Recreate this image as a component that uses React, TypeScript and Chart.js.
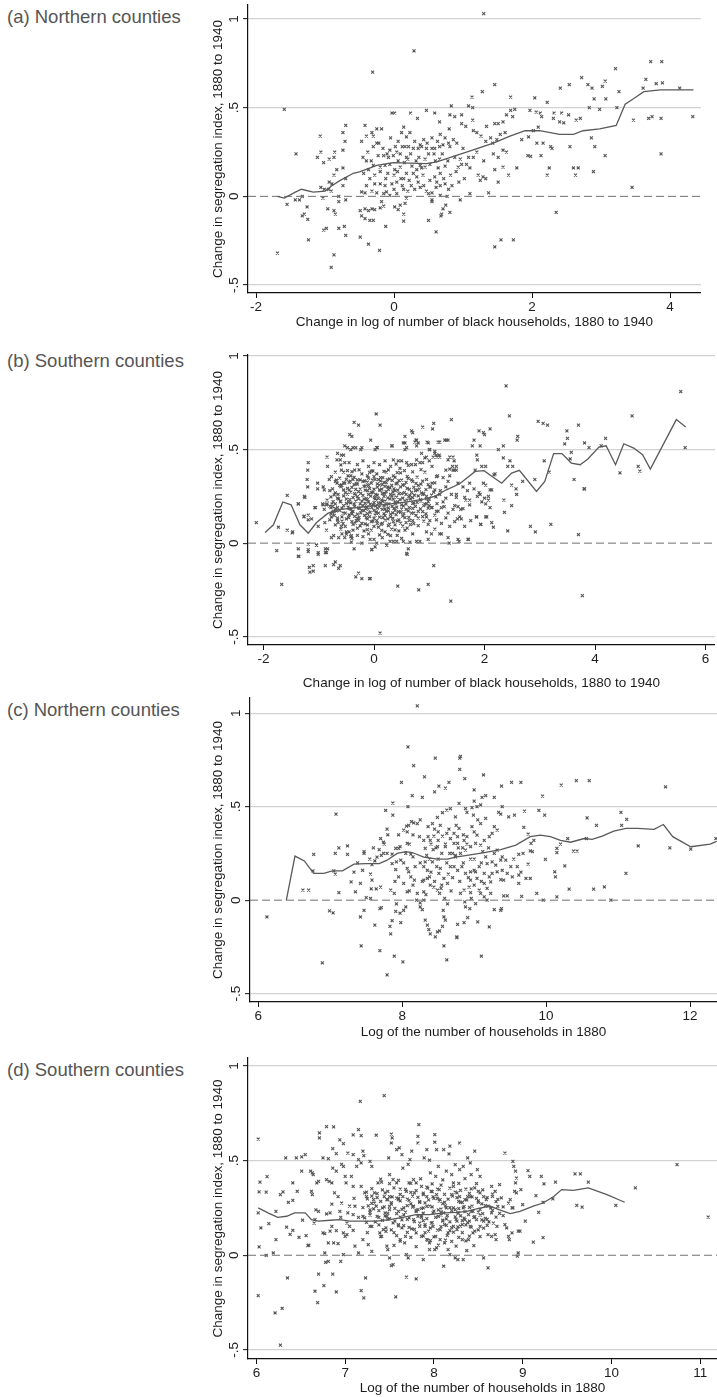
import React, { useEffect, useRef } from 'react';
import { Chart, registerables } from 'chart.js';

Chart.register(...registerables);

const FONT = '"Liberation Sans", Arial, Helvetica, sans-serif';
const CANVAS_LEFT = 190;

const Y_TITLE = 'Change in segregation index, 1880 to 1940';
const X_TITLE_CHANGE = 'Change in log of number of black households, 1880 to 1940';
const X_TITLE_LEVEL = 'Log of the number of households in 1880';

const yTickValues = [-0.5, 0, 0.5, 1];
const yTickLabels = ['-.5', '0', '.5', '1'];
const xTicksA = [-2, 0, 2, 4];
const xTicksB = [-2, 0, 2, 4, 6];
const xTicksC = [6, 8, 10, 12];
const xTicksD = [6, 7, 8, 9, 10, 11];

// (a) Northern counties: change in log black households vs change in segregation
const pointsA: [number, number][] = [
  [-1.59,0.49],[-1.69,-0.32],[-1.55,-0.045],[-1.42,0.24],[-1.07,0.34],[-1.11,0.22],[-1.06,0.25],[-1.02,0.19],[-0.94,0.21],[-0.87,0.22],[-0.86,0.25],[-0.83,0.15],[-0.74,0.26],[-0.87,0.12],[-0.94,0.08],[-0.71,0.31],[-0.74,0.36],[-0.70,0.40],[-1.43,-0.02],[-1.37,-0.02],[-1.33,0.0],[-1.26,-0.06],[-1.33,-0.11],[-1.30,-0.10],[-1.25,-0.13],[-1.24,-0.245],[-1.02,-0.19],[-0.98,-0.18],[-0.91,-0.40],[-0.87,-0.33],[-0.80,-0.18],[-0.72,-0.17],[-0.96,-0.07],[-0.87,-0.08],[-0.85,-0.10],[-0.80,-0.03],[-0.70,-0.02],[-0.70,-0.22],[-1.03,-0.01],[-0.95,0.04],[-0.91,0.03],[-0.90,0.07],[-1.06,0.05],[-1.01,0.04],[-0.74,0.16],[-0.70,0.10],[-0.74,0.06],[-0.80,0.0],
  [1.30,1.03],[0.29,0.82],[-0.31,0.70],[3.72,0.76],[3.88,0.76],[3.21,0.72],[2.72,0.67],[3.65,0.66],[3.80,0.635],[3.89,0.64],[3.06,0.65],[3.02,0.62],[2.41,0.61],[2.54,0.63],[2.81,0.63],[2.87,0.61],[3.26,0.59],[1.46,0.63],[1.28,0.59],[1.13,0.56],[1.69,0.56],[2.04,0.555],[2.22,0.53],[2.90,0.55],[3.07,0.55],[2.98,0.49],[2.83,0.50],[3.23,0.50],[3.61,0.61],[4.14,0.61],[4.33,0.45],[3.69,0.44],[3.74,0.45],[3.87,0.44],[3.47,0.43],[3.87,0.24],[3.45,0.05],[3.06,0.23],[2.91,0.28],[2.86,0.33],[2.60,0.16],[2.67,0.16],[2.63,0.12],[2.89,0.14],[2.55,0.28],[2.35,-0.09],[2.32,0.47],[2.43,0.47],[2.53,0.46],[2.64,0.43],[2.70,0.44],[2.31,0.44],[2.40,0.42],[2.46,0.415],[2.27,0.28],[2.29,0.27],[2.25,0.16],[2.22,0.12],[2.13,0.23],[2.12,0.47],[2.14,0.45],[2.06,0.475],[1.97,0.485],[2.09,0.39],[2.02,0.37],[1.95,0.335],[1.85,0.32],[1.94,0.23],[1.98,0.225],[2.07,0.30],[2.16,0.30],[1.75,0.49],[1.69,0.485],[1.63,0.46],[1.72,0.45],[1.58,0.42],[1.51,0.41],[1.46,0.41],[1.34,0.395],[1.61,0.36],[1.54,0.35],[1.49,0.32],[1.43,0.30],[1.33,0.31],[1.26,0.34],[1.20,0.36],[1.15,0.37],[1.63,0.25],[1.58,0.26],[1.51,0.22],[1.44,0.24],[1.78,0.16],[1.66,0.12],[1.58,0.165],[1.46,0.15],[1.51,0.08],[1.37,0.02],[1.33,0.10],[1.25,0.09],[1.22,0.12],[1.29,0.11],[1.10,0.16],[1.05,0.18],[1.08,0.22],[1.15,0.22],[0.93,0.165],[0.98,0.18],[0.96,0.21],[1.10,0.015],[0.96,-0.02],[1.46,-0.285],[1.55,-0.245],[1.73,-0.245],[0.98,0.46],[0.81,0.46],[0.88,0.45],[0.83,0.51],[1.08,0.51],[1.14,0.50],[1.14,0.43],[0.98,0.41],[1.04,0.395],[0.79,0.30],[0.81,0.28],[0.91,0.30],[0.86,0.32],[0.67,0.35],[0.74,0.33],[0.71,0.29],[0.66,0.42],[0.59,0.47],[0.47,0.485],[0.34,0.44],[0.24,0.47],[0.01,0.47],[-0.03,0.47],[0.66,0.21],[0.64,0.16],[0.67,0.13],[0.59,0.11],[0.52,0.18],[0.45,0.165],[0.38,0.175],[0.33,0.15],[0.74,0.07],[0.84,0.06],[0.79,0.04],[0.67,0.06],[0.77,0.0],[0.67,0.005],[0.55,-0.02],[0.75,-0.05],[0.71,-0.07],[0.69,-0.10],[0.81,-0.09],[0.68,-0.11],[0.50,-0.135],[0.61,-0.20],[0.61,0.05],[0.55,0.02],[0.47,0.03],[0.43,0.06],[0.40,0.28],[0.47,0.27],[0.55,0.27],[0.59,0.27],[0.43,0.32],[0.38,0.29],[0.28,0.27],[0.21,0.28],[0.23,0.36],[0.18,0.335],[0.11,0.36],[0.14,0.39],[0.16,0.28],[0.06,0.31],[0.04,0.25],[-0.06,0.26],[-0.01,0.23],[0.09,0.24],[-0.08,0.22],[-0.15,0.23],[-0.23,0.23],[-0.30,0.28],[-0.18,0.38],[-0.25,0.38],[-0.32,0.36],[-0.40,0.34],[-0.30,0.34],[-0.42,0.40],[-0.47,0.31],[0.09,0.165],[0.01,0.15],[-0.06,0.18],[-0.13,0.175],[-0.20,0.165],[-0.30,0.175],[-0.37,0.15],[-0.44,0.13],[0.18,0.13],[0.14,0.10],[0.04,0.08],[-0.03,0.07],[-0.13,0.06],[-0.20,0.07],[-0.28,0.07],[0.25,0.06],[0.20,0.03],[0.14,0.04],[0.04,0.015],[-0.06,0.005],[-0.11,0.025],[-0.15,0.015],[-0.25,0.02],[-0.32,0.03],[-0.42,0.02],[-0.47,0.025],[0.18,-0.01],[0.16,-0.04],[0.09,-0.05],[0.01,-0.06],[0.06,-0.075],[0.14,-0.10],[0.14,-0.14],[-0.18,-0.03],[-0.15,-0.055],[-0.20,-0.065],[-0.28,-0.075],[-0.32,-0.07],[-0.37,-0.08],[-0.42,-0.07],[-0.30,-0.135],[-0.35,-0.135],[-0.42,-0.125],[-0.47,-0.11],[-0.49,-0.08],[-0.12,-0.17],[-0.37,-0.27],[-0.21,-0.305],[-0.49,-0.23],[0.50,0.015],[0.55,-0.03],[0.33,0.11],[0.28,0.13],[0.35,0.08],[0.38,0.05],
  [-0.45,0.22],[-0.38,0.25],[-0.28,0.12],[-0.22,0.30],[-0.12,0.10],[-0.05,0.33],[0.0,0.12],[0.06,0.2],[0.12,0.06],[0.2,0.21],[0.26,0.17],[0.3,0.31],[0.36,0.22],[0.42,0.12],[0.5,0.24],[0.55,0.33],[0.6,0.2],[0.7,0.24],[0.74,0.17],[0.82,0.12],[0.88,0.22],[0.94,0.08],[1.0,0.27],[-0.4,0.06],[-0.33,0.2],[-0.16,0.27],[-0.09,0.13],[0.02,0.28],[0.1,0.1],[0.15,0.19],[0.24,0.24],[0.3,0.04],[0.45,0.21],[0.52,0.09],[0.63,0.31],[0.72,0.1],[0.8,0.38],[1.2,0.25],[1.3,0.2],[1.4,0.33],
  [-0.35,0.1],[-0.2,0.14],[-0.1,0.24],[0.05,0.14],[0.12,0.28],[0.22,0.09],[0.32,0.2],[0.4,0.16],[0.48,0.3],[0.58,0.24],[0.66,0.28],[0.78,0.2],[0.9,0.14],[1.02,0.1],[-0.25,0.3],[-0.4,0.2],[0.0,0.04],[0.18,0.22],[0.35,0.27],[0.62,0.08]
];
const lineAX = [-1.69,-1.59,-1.43,-1.34,-1.17,-1.0,-0.90,-0.78,-0.59,-0.49,-0.25,-0.01,0.47,0.62,1.05,1.44,1.68,1.90,2.11,2.40,2.60,2.74,2.98,3.22,3.35,3.47,3.62,3.86,4.34];
const lineAY = [0.0,-0.01,0.024,0.04,0.024,0.03,0.06,0.09,0.13,0.14,0.175,0.19,0.185,0.195,0.25,0.30,0.34,0.37,0.37,0.35,0.35,0.37,0.38,0.40,0.52,0.55,0.59,0.60,0.60];

// (b) Southern counties
const pointsB: [number, number][] = [
  [-2.13,0.11],[-1.76,-0.04],[-1.67,-0.22],[-1.73,0.085],[-1.57,0.255],[-1.57,0.07],[-1.48,0.055],[-1.37,-0.03],[-1.36,-0.07],[-1.37,0.21],[-1.26,0.25],[-1.26,0.145],[-1.19,0.125],[-1.19,0.43],[-1.21,0.34],[-1.19,-0.005],[-1.19,-0.045],[-1.16,-0.155],[-1.10,-0.15],[-1.04,-0.01],[-1.02,0.32],[-1.06,0.19],[-0.92,0.30],[-0.88,-0.05],[-0.88,-0.03],[-1.01,-0.06],[-0.85,0.46],[-0.88,-0.12],[-0.73,-0.115],[-0.64,-0.135],[-0.93,0.21],[-0.85,0.21],[-0.78,0.19],[-0.77,0.355],[-0.70,0.38],[-0.59,0.39],[-0.53,0.43],[-0.66,0.48],[-0.59,0.47],[-0.53,0.52],[-0.44,0.58],[-0.67,0.32],[-0.59,0.31],[-0.53,0.32],[-0.47,0.36],[-0.77,0.14],[-0.66,0.125],[-0.59,0.09],[-0.50,0.06],[-0.41,0.04],[-0.77,0.03],[-0.64,0.03],[-0.53,0.03],[-0.41,0.005],[-0.36,0.645],[-0.33,-0.18],[-0.38,0.51],[-0.33,0.51],
  [0.04,0.69],[-0.28,0.63],[0.11,0.63],[-0.40,0.57],[-0.06,0.55],[-0.48,0.51],[-0.42,0.50],[-0.24,0.50],[-0.55,0.47],[-0.61,0.445],[-0.67,0.445],[-0.84,0.41],[-1.20,0.39],[-1.20,0.30],[-1.25,0.245],[-1.37,0.21],[-1.02,0.29],[-0.90,0.285],[-0.81,0.34],[-1.07,0.19],[-1.19,0.15],[-1.47,0.06],[-0.92,0.205],[-0.86,0.205],[-1.27,0.14],[-1.13,0.13],[-1.01,0.09],[-0.75,0.195],[-0.73,0.17],[-0.61,0.22],[-0.89,0.11],[-0.86,0.07],[-0.73,0.04],[-0.58,0.05],[-0.42,0.035],[-0.36,-0.03],[-1.01,-0.05],[-0.86,-0.05],[-0.84,-0.03],[-1.37,-0.07],[-1.19,-0.035],[-1.04,-0.01],[-1.17,-0.13],[-1.10,-0.12],[-0.70,-0.10],[-0.61,-0.12],[-0.28,-0.16],[-0.22,-0.19],[-0.08,-0.19],[-0.04,-0.035],[0.02,-0.02],[0.05,0.0],[-0.22,0.0],[-0.07,0.02],[0.23,-0.01],[0.29,0.01],[0.41,0.01],[0.53,0.01],[0.65,0.005],[0.77,0.01],[0.60,-0.06],[1.08,-0.12],[0.95,0.06],[1.04,0.05],[1.22,0.05],[1.36,0.0],[1.52,0.02],[1.70,0.02],[1.85,0.14],[1.93,0.10],[2.02,0.14],[1.73,0.205],[1.64,0.245],[1.87,0.25],[1.95,0.22],[1.81,0.29],[1.90,0.27],[2.0,0.24],[1.95,0.41],[1.83,0.39],[1.87,0.445],[1.86,0.47],[1.78,0.52],[1.92,0.52],[1.81,0.55],[1.98,0.59],[2.0,0.58],[1.90,0.60],[1.40,0.66],[1.08,0.64],[1.06,0.61],[0.88,0.62],[0.70,0.59],[0.56,0.535],[0.76,0.55],[0.80,0.535],[0.96,0.54],[1.16,0.54],[1.31,0.55],[1.0,0.50],[1.10,0.49],[0.32,0.52],[0.06,0.51],[0.59,0.51],[0.56,0.57],[0.35,0.445],[0.44,0.44],[0.50,0.44],[0.47,0.40],[0.59,0.43],[0.68,0.42],[0.77,0.445],[0.83,0.43],[0.92,0.455],[1.0,0.44],[1.07,0.46],[1.13,0.47],[1.19,0.46],[1.34,0.445],[1.43,0.46],[1.49,0.41],[1.30,0.39],[1.37,0.395],[1.43,0.39],[1.49,0.39],[1.13,0.355],[1.25,0.35],[1.34,0.33],[1.52,0.32],[1.61,0.30],[1.73,0.32],[1.01,0.30],[1.10,0.285],[1.19,0.26],[1.30,0.24],[1.40,0.26],[1.49,0.245],[0.95,0.21],[1.04,0.19],[1.13,0.17],[1.27,0.195],[1.34,0.16],[1.43,0.18],[1.52,0.195],[1.61,0.185],[0.95,0.14],[1.01,0.12],[1.13,0.125],[1.22,0.105],[1.30,0.135],[1.37,0.09],[1.46,0.115],[1.55,0.14],[1.64,0.09],[1.22,0.19],
  [-0.45,0.43],[-0.3,0.42],[-0.2,0.44],[-0.1,0.41],[0.0,0.43],[0.1,0.42],[0.2,0.44],[0.3,0.41],
  [-0.55,0.38],[-0.42,0.36],[-0.35,0.39],[-0.22,0.37],[-0.12,0.36],[-0.05,0.385],[0.05,0.37],[0.12,0.35],[0.22,0.38],[0.35,0.36],[0.48,0.375],[0.6,0.355],
  [-0.7,0.33],[-0.58,0.31],[-0.45,0.325],[-0.38,0.34],[-0.3,0.315],[-0.2,0.33],[-0.15,0.305],[-0.05,0.32],[0.02,0.34],[0.1,0.31],[0.18,0.325],[0.25,0.30],[0.33,0.335],[0.42,0.32],[0.55,0.31],[0.7,0.33],[0.85,0.315],
  [-0.8,0.28],[-0.65,0.26],[-0.52,0.27],[-0.45,0.285],[-0.35,0.265],[-0.28,0.275],[-0.2,0.255],[-0.12,0.28],[-0.05,0.27],[0.03,0.26],[0.1,0.285],[0.15,0.265],[0.22,0.275],[0.3,0.26],[0.38,0.28],[0.45,0.265],[0.55,0.27],[0.65,0.255],[0.75,0.28],[0.9,0.265],
  [-0.85,0.23],[-0.7,0.21],[-0.6,0.225],[-0.5,0.235],[-0.42,0.215],[-0.33,0.225],[-0.25,0.21],[-0.18,0.235],[-0.1,0.22],[-0.02,0.205],[0.05,0.23],[0.12,0.215],[0.2,0.225],[0.27,0.21],[0.35,0.235],[0.43,0.22],[0.5,0.205],[0.6,0.23],[0.72,0.215],[0.85,0.225],
  [-0.9,0.18],[-0.75,0.165],[-0.62,0.175],[-0.52,0.16],[-0.45,0.185],[-0.38,0.17],[-0.3,0.155],[-0.22,0.175],[-0.15,0.185],[-0.07,0.165],[0.0,0.175],[0.08,0.16],[0.15,0.18],[0.22,0.17],[0.3,0.155],[0.38,0.175],[0.48,0.165],[0.58,0.18],[0.68,0.16],[0.8,0.17],
  [-0.8,0.125],[-0.65,0.11],[-0.5,0.13],[-0.4,0.115],[-0.32,0.12],[-0.22,0.105],[-0.12,0.13],[-0.05,0.115],[0.05,0.12],[0.15,0.105],[0.25,0.13],[0.35,0.115],[0.45,0.125],[0.58,0.11],[0.7,0.12],
  [-0.6,0.075],[-0.45,0.06],[-0.3,0.08],[-0.18,0.065],[-0.05,0.07],[0.08,0.085],[0.2,0.06],[0.32,0.075],[0.45,0.065],[0.6,0.08],
  [-0.4,0.025],[-0.2,0.035],[0.0,0.02],[0.15,0.03],[0.3,0.04],[0.5,0.025],
  [0.95,0.25],[1.0,0.20],[1.05,0.32],[1.1,0.15],[1.2,0.28],[1.15,0.36],[0.92,0.38],[1.25,0.22],[0.98,0.10],[1.3,0.30],[0.88,0.43],[1.05,0.41],
  [-0.62,0.348],[-0.5,0.341],[-0.36,0.352],[-0.25,0.338],[-0.1,0.347],[0.0,0.355],[0.08,0.339],[0.16,0.35],[0.28,0.343],[0.38,0.352],[0.5,0.337],[0.62,0.346],[0.78,0.353],[0.95,0.34],
  [-0.75,0.29],[-0.6,0.302],[-0.48,0.293],[-0.4,0.298],[-0.25,0.289],[-0.18,0.304],[-0.08,0.292],[0.06,0.299],[0.14,0.288],[0.2,0.303],[0.29,0.295],[0.36,0.29],[0.48,0.301],[0.6,0.292],[0.72,0.298],[0.82,0.289],[1.02,0.3],
  [-0.78,0.247],[-0.66,0.24],[-0.55,0.252],[-0.38,0.243],[-0.3,0.249],[-0.14,0.238],[-0.06,0.251],[0.01,0.244],[0.08,0.239],[0.18,0.25],[0.25,0.242],[0.32,0.253],[0.41,0.246],[0.52,0.24],[0.63,0.249],[0.7,0.243],[0.8,0.252],[0.95,0.238],[1.12,0.247],
  [-0.8,0.198],[-0.66,0.19],[-0.55,0.2],[-0.47,0.193],[-0.35,0.197],[-0.28,0.189],[-0.2,0.201],[-0.13,0.194],[-0.04,0.19],[0.03,0.199],[0.1,0.193],[0.18,0.2],[0.26,0.188],[0.33,0.197],[0.41,0.192],[0.53,0.199],[0.64,0.19],[0.75,0.196],[0.9,0.2],[1.05,0.191],
  [-0.72,0.148],[-0.58,0.14],[-0.45,0.151],[-0.35,0.143],[-0.27,0.138],[-0.17,0.149],[-0.08,0.142],[0.02,0.15],[0.1,0.139],[0.2,0.147],[0.3,0.141],[0.4,0.152],[0.52,0.144],[0.63,0.138],[0.76,0.149],[0.88,0.142],
  [-0.7,0.098],[-0.52,0.09],[-0.38,0.1],[-0.25,0.092],[-0.12,0.097],[0.0,0.089],[0.13,0.1],[0.26,0.093],[0.38,0.098],[0.52,0.091],[0.66,0.099],[0.8,0.094],
  [-0.5,0.048],[-0.3,0.042],[-0.1,0.05],[0.1,0.044],[0.25,0.047],[0.42,0.041],[0.7,0.049],
  [-0.55,0.322],[-0.32,0.318],[-0.12,0.326],[0.06,0.317],[0.22,0.323],[0.4,0.316],[0.58,0.325],[0.76,0.319],[1.1,0.322],
  [-0.7,0.268],[-0.42,0.273],[-0.24,0.266],[-0.02,0.272],[0.18,0.267],[0.34,0.274],[0.5,0.265],[0.68,0.271],[0.86,0.268],[1.08,0.272],
  [-0.74,0.222],[-0.46,0.218],[-0.22,0.224],[0.0,0.217],[0.16,0.223],[0.38,0.219],[0.56,0.225],[0.78,0.218],[0.98,0.222],
  [-0.68,0.172],[-0.4,0.168],[-0.18,0.174],[0.04,0.167],[0.26,0.173],[0.44,0.169],[0.62,0.172],[0.88,0.168],[1.16,0.171],
  [-0.58,0.118],[-0.28,0.122],[-0.02,0.117],[0.2,0.123],[0.42,0.119],[0.64,0.121],[0.9,0.118],
  [-0.4,0.382],[-0.08,0.378],[0.18,0.384],[0.42,0.377],[0.7,0.381],
  [-0.6,0.418],[0.4,0.422],[0.62,0.415],[0.75,0.42],
  [-0.48,0.388],[-0.27,0.392],[-0.02,0.386],[0.26,0.391],[0.55,0.387],[0.85,0.393],
  [-0.68,0.336],[-0.43,0.331],[-0.3,0.338],[-0.17,0.332],[-0.03,0.337],[0.12,0.333],[0.24,0.339],[0.45,0.334],[0.68,0.338],[0.88,0.331],
  [-0.62,0.309],[-0.36,0.312],[-0.1,0.308],[0.15,0.313],[0.32,0.309],[0.52,0.311],[0.8,0.309],[0.98,0.313],
  [-0.55,0.284],[-0.33,0.287],[-0.16,0.283],[0.0,0.288],[0.11,0.282],[0.26,0.286],[0.43,0.283],[0.64,0.287],[0.78,0.284],[0.94,0.286],
  [-0.72,0.258],[-0.48,0.262],[-0.34,0.257],[-0.1,0.261],[0.06,0.256],[0.2,0.262],[0.36,0.257],[0.58,0.261],[0.73,0.256],[0.88,0.26],[1.04,0.257],
  [-0.64,0.236],[-0.44,0.232],[-0.28,0.237],[-0.12,0.233],[0.02,0.236],[0.14,0.231],[0.29,0.237],[0.47,0.233],[0.66,0.236],[0.84,0.232],[1.0,0.235],
  [-0.76,0.209],[-0.5,0.212],[-0.36,0.208],[-0.16,0.213],[-0.07,0.208],[0.08,0.212],[0.22,0.207],[0.39,0.211],[0.58,0.208],[0.7,0.212],[0.92,0.209],[1.14,0.211],
  [-0.7,0.184],[-0.58,0.187],[-0.42,0.183],[-0.26,0.186],[-0.1,0.182],[0.06,0.187],[0.2,0.183],[0.36,0.186],[0.5,0.182],[0.7,0.186],[0.84,0.183],[0.98,0.187],
  [-0.78,0.158],[-0.56,0.161],[-0.4,0.157],[-0.24,0.162],[-0.12,0.158],[0.04,0.161],[0.18,0.157],[0.34,0.162],[0.54,0.158],[0.72,0.161],[0.94,0.157],
  [-0.66,0.134],[-0.46,0.137],[-0.3,0.133],[-0.14,0.136],[0.0,0.132],[0.16,0.137],[0.34,0.133],[0.56,0.136],[0.8,0.134],
  [-0.56,0.104],[-0.34,0.107],[-0.16,0.103],[0.06,0.106],[0.28,0.102],[0.48,0.107],[0.72,0.104],
  [-0.38,0.069],[-0.12,0.072],[0.14,0.068],[0.38,0.071],[0.56,0.069],
  [2.39,0.84],[5.55,0.81],[2.45,0.68],[4.67,0.68],[2.97,0.65],[3.06,0.64],[3.14,0.63],[3.70,0.63],[3.49,0.60],[2.10,0.61],[2.60,0.57],[2.59,0.55],[3.50,0.56],[3.45,0.53],[4.19,0.56],[3.81,0.535],[3.89,0.51],[4.11,0.52],[5.63,0.51],[2.25,0.50],[2.34,0.52],[3.08,0.44],[3.57,0.485],[3.55,0.45],[2.42,0.41],[2.46,0.44],[2.51,0.41],[2.34,0.455],[2.02,0.41],[4.45,0.375],[4.78,0.41],[4.81,0.385],[3.62,0.34],[3.17,0.38],[2.69,0.33],[2.91,0.34],[2.19,0.37],[2.17,0.365],[1.98,0.32],[2.02,0.31],[2.13,0.285],[2.10,0.285],[2.07,0.25],[2.49,0.31],[2.57,0.29],[2.58,0.26],[2.35,0.23],[2.49,0.20],[2.36,0.165],[3.81,0.29],[3.80,0.29],[1.92,0.26],[2.07,0.23],[2.10,0.19],[2.02,0.21],[2.04,0.14],[2.16,0.085],[2.13,0.11],[1.86,0.14],[1.93,0.10],[1.69,0.28],[1.73,0.23],[1.66,0.23],[1.49,0.26],[1.46,0.20],[1.57,0.18],[1.51,0.13],[1.58,0.13],[1.75,0.12],[1.54,0.01],[1.71,0.02],[2.83,0.09],[2.92,0.06],[3.20,0.10],[2.42,0.065],[3.70,0.045],[3.77,-0.28],[1.39,-0.31],[0.98,-0.22],[0.81,-0.25],[0.43,-0.23],[0.11,-0.48],[-0.07,-0.19],[1.34,0.03],[1.19,0.05],[1.10,0.075],[0.98,0.02],[0.83,0.01],[0.59,-0.055],[0.62,-0.03],[0.35,0.01],[0.23,-0.01],[-0.04,-0.035],[1.37,0.46],[1.45,0.44],[1.42,0.41],[1.45,0.39],[1.37,0.36],[1.28,0.55],[1.34,0.55],[1.19,0.54],[1.10,0.48],[1.14,0.46],[1.18,0.47],[0.98,0.535],[1.01,0.50],[0.95,0.46],[0.86,0.48],[0.77,0.52],[0.74,0.54],[0.56,0.50],[0.53,0.535],[0.33,0.52],[0.05,0.51],[0.02,0.50],[-0.22,0.51],[0.68,0.60],[0.77,0.55]
];
const lineBX = [-1.97,-1.82,-1.65,-1.5,-1.34,-1.19,-1.04,-0.83,-0.61,-0.3,0,0.3,0.6,0.9,1.1,1.31,1.55,1.83,1.99,2.31,2.49,2.63,2.94,3.09,3.25,3.40,3.57,3.73,3.87,4.07,4.20,4.37,4.52,4.70,4.86,5.0,5.47,5.64];
const lineBY = [0.057,0.098,0.22,0.205,0.098,0.053,0.11,0.16,0.18,0.19,0.2,0.21,0.22,0.235,0.25,0.285,0.317,0.383,0.387,0.32,0.374,0.389,0.276,0.33,0.478,0.478,0.428,0.419,0.45,0.513,0.52,0.419,0.531,0.508,0.472,0.396,0.66,0.62];

// (c) Northern counties: log households in 1880
const pointsC: [number, number][] = [
  [8.21,1.04],[8.08,0.82],[8.16,0.72],[8.46,0.76],[7.99,0.63],[8.31,0.66],[8.14,0.56],[8.28,0.55],[8.51,0.61],[8.45,0.58],[8.60,0.60],[8.65,0.63],[8.80,0.76],[8.80,0.70],[8.08,0.50],[7.87,0.52],[7.77,0.48],[7.87,0.455],[7.08,0.46],[7.79,0.38],[7.75,0.30],[7.74,0.31],[6.77,0.245],[7.07,0.25],[7.12,0.28],[7.24,0.29],[7.24,0.245],[7.05,0.157],[7.07,0.14],[6.76,0.157],[6.62,0.054],[6.70,0.054],[7.12,0.04],[6.12,-0.09],[6.89,-0.335],[6.99,-0.057],[7.04,-0.068],[7.35,0.045],[7.29,0.098],[7.33,0.15],[7.42,0.09],[7.42,-0.09],[7.47,-0.054],[7.43,-0.245],[7.50,0.014],[7.56,0.009],[7.57,0.06],[7.58,0.107],[7.47,0.25],[7.47,0.26],[7.56,0.14],[7.58,0.19],[7.62,0.21],[7.68,0.27],[7.71,0.24],[7.65,0.23],[7.74,0.25],[7.62,-0.134],[7.64,0.06],[7.70,0.07],[7.69,-0.045],[7.71,-0.04],[7.69,-0.27],[7.79,-0.40],[7.83,-0.14],[7.84,-0.18],[7.86,-0.11],[7.89,-0.30],[8.01,-0.33],[7.91,-0.06],[7.92,-0.02],[7.89,0.036],[7.84,0.054],[7.98,-0.12],[7.97,-0.07],[8.02,-0.054],[8.05,-0.036],[8.07,0.045],[8.02,0.09],[7.95,0.125],[7.91,0.164],[7.86,0.196],[7.92,0.205],[7.98,0.214],[7.95,0.277],[7.86,0.246],[7.91,0.277],[7.97,0.286],[7.79,0.25],[8.02,0.375],[8.06,0.396],[8.09,0.40],[8.13,0.42],[8.16,0.414],[8.21,0.41],[8.25,0.43],[8.07,0.366],[8.07,0.304],[8.12,0.246],[8.15,0.232],[8.07,0.17],[8.09,0.152],[8.12,0.125],[8.15,0.08],[8.17,0.107],[8.21,0.036],[8.25,-0.014],[8.25,-0.036],[8.28,-0.05],[8.32,-0.107],[8.35,-0.134],[8.37,-0.157],[8.39,-0.18],[8.46,-0.196],[8.49,-0.17],[8.52,-0.164],[8.56,-0.14],[8.58,-0.09],[8.60,-0.107],[8.57,-0.054],[8.63,-0.02],[8.59,0.01],[8.62,-0.32],[8.58,-0.245],[8.76,-0.2],[8.30,0.107],[8.35,0.116],[8.38,0.125],[8.39,0.08],[8.44,0.07],[8.49,0.054],[8.52,0.036],[8.54,0.063],[8.30,0.045],[8.30,0.18],[8.35,0.16],[8.32,0.205],[8.42,0.205],[8.48,0.18],[8.53,0.17],[8.51,0.143],[8.58,0.116],[8.63,0.09],[8.67,0.18],[8.30,0.32],[8.36,0.34],[8.39,0.32],[8.44,0.343],[8.50,0.366],[8.56,0.343],[8.62,0.357],[8.67,0.33],[8.72,0.304],[8.77,0.34],[8.32,0.277],[8.43,0.27],[8.49,0.286],[8.60,0.286],[8.66,0.25],[8.74,0.24],[8.36,0.393],[8.42,0.41],[8.49,0.443],[8.56,0.468],[8.62,0.482],[8.67,0.49],[8.74,0.446],[8.79,0.518],
  [7.80,0.35],[7.70,0.33],[7.60,0.28],[7.55,0.22],[7.38,0.2],[7.45,0.16],
  [8.1,0.3],[8.18,0.18],[8.24,0.34],[8.28,0.1],[8.34,0.24],[8.4,0.15],[8.45,0.38],[8.5,0.22],[8.55,0.08],[8.6,0.3],[8.64,0.14],[8.7,0.25],[8.75,0.4],[8.8,0.1],[8.85,0.2],[8.9,0.3],[8.95,0.04],[9.0,0.22],[9.05,0.43],[9.1,0.2],[9.2,0.28],[8.2,0.0],[8.33,0.03],[8.47,0.28],[8.53,0.4],[8.68,0.05],[8.72,0.18],[8.84,0.28],[8.92,0.12],[9.12,0.26],[7.95,0.35],[7.9,0.1],[8.02,0.2],[8.1,0.05],[8.38,0.22],[8.62,0.2],
  [8.25,0.2],[8.4,0.3],[8.55,0.25],[8.7,0.12],[8.85,0.35],[9.0,0.16],[8.15,0.35],[8.3,0.0],[8.45,0.1],[8.65,0.38],[8.78,0.28],[8.95,0.22],[9.1,0.1],[8.05,0.25],[8.5,0.32],
  [8.81,0.77],[8.87,0.65],[9.13,0.67],[9.0,0.59],[9.11,0.55],[9.16,0.56],[9.28,0.55],[9.38,0.61],[9.52,0.63],[9.65,0.63],[9.0,0.53],[8.88,0.49],[8.90,0.47],[8.97,0.495],[9.04,0.50],[9.09,0.51],[8.99,0.455],[9.39,0.50],[9.34,0.47],[9.37,0.46],[9.48,0.446],[9.56,0.455],[9.70,0.477],[9.90,0.48],[9.98,0.455],[9.95,0.557],[10.21,0.616],[10.42,0.64],[10.60,0.64],[11.66,0.607],[10.57,0.44],[10.70,0.40],[11.04,0.47],[11.12,0.432],[11.05,0.40],[11.28,0.29],[11.72,0.28],[12.01,0.273],[12.36,0.33],[10.30,0.33],[10.20,0.30],[10.15,0.277],[10.15,0.254],[10.38,0.263],[10.43,0.263],[10.56,0.33],[9.99,0.218],[10.12,0.152],[10.13,0.125],[10.26,0.184],[11.11,0.143],[10.32,0.059],[10.66,0.059],[10.81,0.071],[10.9,0.0],[10.15,0.018],[9.96,0.0],[9.87,0.036],[9.66,0.02],[9.46,0.023],[9.41,0.023],[9.69,0.39],[9.75,0.354],[9.79,0.304],[9.78,0.264],[9.81,0.26],[9.83,0.32],[9.75,0.193],[9.62,0.245],[9.68,0.25],[9.60,0.18],[9.65,0.15],[9.62,0.134],[9.62,0.09],[9.72,0.116],[9.78,0.116],[9.55,0.22],[9.51,0.18],[9.53,0.125],[9.46,0.143],[9.44,0.214],[9.37,0.214],[9.39,0.16],[9.37,0.11],[9.41,0.107],[9.32,0.152],[9.30,0.187],[9.37,-0.054],[9.38,-0.045],[9.28,-0.05],[9.21,-0.143],[9.05,-0.116],[8.91,-0.093],[8.86,-0.12],[8.77,-0.13],[8.76,-0.196],[9.10,-0.30],[8.94,-0.045],[9.02,-0.018],[8.96,0.009],[8.88,-0.036],[8.87,-0.009],[9.18,0.0],[9.14,0.018],[9.23,0.036],[9.18,0.063],[9.14,0.09],[9.23,0.098],[9.21,0.125],[9.25,0.143],[8.81,0.036],[8.86,0.054],[8.93,0.07],[9.0,0.08],[9.07,0.054],[9.09,0.036],[8.95,0.107],[9.04,0.116],[9.14,0.143],[9.18,0.196],[9.25,0.205],[9.16,0.232],[9.28,0.25],[9.32,0.268],[9.39,0.232],[8.77,0.16],[8.83,0.18],[8.88,0.143],[8.95,0.152],[9.02,0.152],[9.07,0.18],[8.74,0.232],[8.81,0.25],[8.88,0.268],[8.95,0.286],[9.02,0.304],[9.09,0.295],[9.14,0.32],[9.21,0.34],[9.25,0.357],[9.28,0.393],[9.32,0.375],[9.0,0.366],[8.90,0.34],[8.86,0.32],[8.77,0.304],[8.72,0.357],[8.79,0.384],[9.04,0.348],[9.09,0.41],[9.16,0.4375],[8.97,0.393]
];
const lineCX = [6.39,6.51,6.64,6.77,6.91,7.03,7.17,7.33,7.49,7.68,7.79,7.93,8.05,8.14,8.30,8.49,8.63,8.76,8.90,9.14,9.37,9.58,9.78,9.92,10.06,10.20,10.34,10.53,10.64,10.78,10.94,11.11,11.27,11.50,11.63,11.76,12.01,12.28,12.37];
const lineCY = [0.0,0.236,0.21,0.143,0.143,0.157,0.157,0.193,0.196,0.196,0.214,0.25,0.26,0.255,0.23,0.22,0.22,0.232,0.24,0.255,0.27,0.295,0.34,0.348,0.34,0.32,0.31,0.33,0.325,0.343,0.37,0.384,0.384,0.379,0.405,0.34,0.286,0.30,0.315];

// (d) Southern counties: log households in 1880
const pointsD: [number, number][] = [
  [6.02,0.614],[6.04,0.386],[6.03,0.335],[6.02,0.224],[6.03,0.044],[6.02,-0.213],[6.05,0.144],[6.11,0.333],[6.12,0.415],[6.11,0.0],[6.14,0.167],[6.19,0.012],[6.21,-0.305],[6.27,-0.475],[6.29,-0.28],[6.22,0.232],[6.22,0.083],[6.27,0.32],[6.30,0.335],[6.33,0.514],[6.34,0.148],[6.35,-0.12],[6.36,0.28],[6.41,0.29],[6.38,0.11],[6.41,0.132],[6.41,0.382],[6.45,0.514],[6.51,0.52],[6.46,0.338],[6.48,0.095],[6.51,0.444],[6.52,0.185],[6.55,0.532],[6.56,0.104],[6.58,0.051],[6.59,0.053],[6.61,0.444],[6.63,0.435],[6.64,0.426],[6.62,0.338],[6.63,0.32],[6.65,0.17],[6.66,0.188],[6.66,-0.19],[6.69,-0.25],[6.70,-0.1],[6.68,0.382],[6.70,0.39],[6.67,0.24],[6.70,0.232],[6.71,0.646],[6.71,0.62],[6.75,0.514],[6.81,0.51],[6.75,0.118],[6.77,0.114],[6.77,0.012],[6.76,-0.16],[6.78,-0.037],[6.81,-0.032],[6.79,0.68],[6.87,0.678],[6.79,0.40],[6.82,0.39],[6.85,0.382],[6.79,0.218],[6.83,0.224],[6.81,0.065],[6.83,0.127],[6.85,0.153],[6.86,0.563],[6.90,0.537],[6.86,0.46],[6.90,0.444],[6.86,-0.10],[6.88,0.33],[6.92,0.31],[6.87,0.065],[6.92,0.062],[6.90,-0.194],[6.94,0.61],[6.98,0.59],[6.96,0.48],[6.98,0.47],[6.96,0.276],[6.94,0.232],[6.95,-0.032],[6.98,0.118],[7.0,0.1],[7.02,0.109],[6.98,0.004],[7.0,0.417],[7.01,0.382],[7.03,0.54],[7.09,0.532],[7.03,0.224],[7.09,0.215],[7.11,0.259],[7.02,0.17],[7.05,0.153],[7.09,0.132],[7.07,0.417],[7.09,0.364],[7.09,0.636],[7.15,0.664],[7.11,0.048],[7.15,0.012],[7.13,0.47],[7.15,0.505],[7.18,0.488],[7.17,0.813],[7.18,0.632],[7.20,0.55],[7.21,0.526],[7.18,-0.187],[7.21,-0.225],[7.23,-0.12],[7.18,0.364],[7.22,0.33],[7.24,0.31],[7.20,0.206],[7.24,0.174],[7.28,0.153],[7.20,0.083],[7.26,0.056],[7.30,0.021],[7.28,0.496],[7.30,0.47],[7.32,0.294],[7.33,0.276],[7.35,0.259],[7.35,0.634],[7.37,0.382],[7.41,0.386],[7.39,0.118],[7.41,0.1],[7.43,0.136],[7.44,0.843],[7.44,0.31],[7.47,0.294],[7.50,0.31],[7.45,0.224],[7.47,0.206],[7.50,0.241],[7.47,0.048],[7.48,0.03],[7.50,-0.014],[7.52,-0.055],[7.54,-0.049],[7.49,0.514],[7.52,0.593],[7.52,0.64],[7.53,0.62],[7.50,0.426],[7.54,0.40],[7.58,0.382],[7.57,-0.22],[7.58,0.558],[7.61,0.567],[7.64,0.532],[7.56,0.18],[7.60,0.162],[7.64,0.144],[7.60,0.294],[7.65,0.31],[7.69,0.338],[7.62,0.083],[7.67,0.065],[7.69,0.004],[7.71,-0.014],[7.69,-0.115],[7.80,-0.125],[7.65,0.46],[7.71,0.48],[7.73,0.505],[7.75,0.55],[7.82,0.593],[7.83,0.69],[7.82,0.628],[7.77,0.40],[7.80,0.382],[7.86,0.364],[7.77,0.259],[7.82,0.241],[7.88,0.25],[7.77,0.188],[7.84,0.17],[7.90,0.153],[7.80,0.118],[7.86,0.1],[7.92,0.083],[7.95,0.065],[7.88,-0.023],[7.95,0.03],[8.01,0.03],[8.03,0.039],[7.89,0.514],[7.92,0.558],[7.95,0.502],[8.01,0.637],[8.01,0.597],[8.03,0.558],[7.92,0.31],[7.97,0.338],[8.03,0.32],[8.07,0.294],[7.96,0.435],[8.02,0.417],[8.05,0.47],[7.99,0.224],[8.05,0.206],[8.11,0.224],[8.14,0.25],[7.99,0.153],[8.07,0.136],[8.12,0.162],[8.16,0.118],[8.22,0.153],[8.07,0.083],[8.12,0.065],[8.16,0.03],[8.11,-0.058],[8.18,0.004],[8.24,-0.014],[8.27,-0.023],[8.11,0.558],[8.18,0.576],[8.17,0.535],[8.29,0.593],[8.14,0.444],[8.20,0.426],[8.24,0.479],[8.29,0.452],[8.33,0.47],[8.22,0.364],[8.26,0.33],[8.29,0.31],[8.35,0.294],[8.41,0.31],[8.24,0.241],[8.27,0.224],[8.33,0.25],[8.39,0.215],[8.42,0.232],[8.26,0.18],[8.32,0.162],[8.35,0.188],[8.41,0.153],[8.44,0.118],[8.32,0.083],[8.33,-0.023],[8.37,0.025],[8.39,0.083],[8.38,0.514],[8.41,0.488],[8.42,0.426],[8.46,0.55],[8.49,0.452],[8.52,0.417],[8.46,0.356],[8.52,0.33],[8.56,0.31],[8.59,0.294],[8.48,0.188],[8.52,0.153],[8.56,0.18],[8.61,0.109],[8.56,-0.014],[8.61,-0.067],[8.61,0.259],[8.65,0.224],[8.67,0.17],[8.71,0.153],[8.65,0.1],[8.69,0.109],[8.70,0.083],[8.65,0.364],[8.69,0.338],[8.74,0.373],[8.76,0.303],[8.80,0.54],[8.80,0.162],[8.82,0.144],[8.84,0.1],[8.85,0.083],[8.88,0.118],[8.86,0.294],[8.88,0.25],[8.89,0.25],[8.89,0.496],[8.90,0.47],[8.92,0.444],[8.93,0.408],[8.92,0.382],[8.91,0.338],[8.93,0.33],[8.95,0.127],[8.97,0.127],[8.95,0.012],[8.94,-0.005],[8.98,0.347],[9.0,0.268],[9.03,0.18],[9.06,0.447],[9.08,0.417],[9.12,0.069],[9.15,0.315],[9.18,0.227],[9.21,0.417],[9.23,0.093],[9.23,0.28],[9.24,0.377],[9.34,0.298],[9.37,0.386],[9.59,0.43],[9.65,0.43],[9.61,0.264],[9.67,0.254],[9.74,0.386],[10.05,0.264],[10.27,0.356],[10.74,0.479],[11.09,0.202],
  [7.45,0.33],[7.52,0.27],[7.58,0.22],[7.62,0.35],[7.66,0.25],[7.7,0.19],[7.72,0.29],[7.75,0.14],[7.78,0.33],[7.8,0.23],[7.84,0.28],[7.86,0.2],[7.9,0.12],[7.92,0.36],[7.95,0.26],[7.97,0.17],[8.0,0.3],[8.02,0.1],[8.05,0.24],[8.08,0.37],[8.1,0.18],[8.12,0.28],[8.15,0.21],[8.18,0.13],[8.2,0.32],[8.22,0.25],[8.25,0.19],[8.28,0.38],[8.3,0.28],[8.32,0.12],[8.35,0.23],[8.38,0.31],[8.4,0.18],[8.43,0.26],[8.45,0.2],[8.5,0.28],[8.55,0.22],[8.6,0.19],[7.55,0.12],[7.6,0.3],[7.68,0.1],[7.74,0.38],[7.88,0.32],[7.93,0.08],[8.04,0.35],[8.13,0.08],[8.27,0.15],[8.36,0.35],[7.48,0.19],[7.42,0.25],[7.38,0.2],[7.33,0.33],[7.28,0.24],[7.25,0.12],[7.15,0.2],[7.1,0.3],[7.05,0.26],[6.95,0.2],[6.9,0.13],[6.85,0.27],
  [7.3,0.352],[7.42,0.345],[7.55,0.356],[7.68,0.348],[7.8,0.341],[7.93,0.354],[8.06,0.347],[8.18,0.355],[8.3,0.343],[8.42,0.351],[8.55,0.346],
  [7.25,0.298],[7.36,0.305],[7.48,0.294],[7.58,0.302],[7.7,0.297],[7.82,0.306],[7.94,0.293],[8.04,0.301],[8.16,0.296],[8.26,0.304],[8.37,0.292],[8.48,0.3],[8.6,0.305],[8.72,0.295],
  [7.2,0.252],[7.32,0.245],[7.44,0.256],[7.56,0.248],[7.64,0.243],[7.76,0.254],[7.86,0.247],[7.98,0.255],[8.08,0.244],[8.18,0.251],[8.28,0.246],[8.4,0.253],[8.52,0.242],[8.64,0.25],[8.78,0.255],
  [7.22,0.198],[7.36,0.205],[7.5,0.193],[7.62,0.202],[7.72,0.197],[7.82,0.206],[7.92,0.194],[8.02,0.2],[8.14,0.192],[8.24,0.203],[8.34,0.196],[8.46,0.204],[8.58,0.195],[8.7,0.201],
  [7.3,0.152],[7.46,0.145],[7.6,0.155],[7.72,0.147],[7.84,0.153],[7.96,0.144],[8.08,0.151],[8.2,0.146],[8.3,0.154],[8.42,0.148],[8.56,0.143],
  [7.4,0.098],[7.58,0.104],[7.74,0.095],[7.88,0.102],[8.0,0.097],[8.15,0.105],[8.28,0.094],[8.4,0.101],[8.52,0.099],
  [7.55,0.052],[7.8,0.046],[8.05,0.054],[8.25,0.048],[8.45,0.051],
  [7.4,0.402],[7.6,0.396],[7.85,0.404],[8.1,0.398],[8.35,0.405],
  [7.36,0.326],[7.62,0.321],[7.88,0.328],[8.12,0.322],[8.4,0.327],[8.66,0.323],
  [7.3,0.274],[7.52,0.278],[7.74,0.271],[7.9,0.277],[8.1,0.273],[8.32,0.279],[8.54,0.272],[8.84,0.276],
  [7.28,0.226],[7.48,0.221],[7.68,0.228],[7.88,0.222],[8.08,0.227],[8.28,0.223],[8.5,0.228],[8.74,0.221],
  [7.34,0.176],[7.54,0.171],[7.78,0.178],[7.98,0.172],[8.18,0.177],[8.38,0.173],[8.62,0.176],
  [7.46,0.126],[7.7,0.121],[7.94,0.128],[8.22,0.122],[8.46,0.127],
  [7.5,0.378],[7.72,0.383],[7.98,0.377],[8.22,0.382],[8.48,0.379],
  [7.24,0.333],[7.48,0.337],[7.74,0.332],[7.98,0.336],[8.24,0.334],[8.5,0.338],
  [7.3,0.312],[7.53,0.308],[7.76,0.313],[7.99,0.309],[8.21,0.312],[8.43,0.308],[8.66,0.311],
  [7.4,0.284],[7.62,0.287],[7.84,0.283],[8.06,0.286],[8.28,0.284],[8.5,0.287],[8.7,0.283],
  [7.26,0.261],[7.5,0.258],[7.7,0.262],[7.92,0.258],[8.13,0.261],[8.34,0.257],[8.58,0.262],[8.72,0.258],
  [7.38,0.236],[7.6,0.232],[7.8,0.237],[8.0,0.233],[8.2,0.236],[8.44,0.232],[8.66,0.237],
  [7.28,0.212],[7.45,0.208],[7.66,0.213],[7.86,0.208],[8.08,0.212],[8.3,0.208],[8.52,0.212],[8.78,0.209],
  [7.42,0.184],[7.64,0.187],[7.88,0.183],[8.1,0.186],[8.32,0.183],[8.54,0.187],
  [7.38,0.161],[7.66,0.157],[7.9,0.162],[8.14,0.158],[8.36,0.161],[8.6,0.158],
  [7.52,0.134],[7.78,0.137],[8.04,0.133],[8.26,0.136],[8.5,0.134],
  [7.62,0.074],[7.96,0.077],[8.2,0.073],[8.36,0.076]
];
const lineDX = [6.02,6.13,6.24,6.34,6.43,6.55,6.62,6.70,6.83,6.94,7.05,7.20,7.35,7.50,7.65,7.80,7.95,8.11,8.26,8.37,8.48,8.63,8.74,8.86,8.97,9.12,9.23,9.35,9.44,9.57,9.74,9.95,10.15];
const lineDY = [0.25,0.224,0.20,0.206,0.224,0.224,0.188,0.18,0.185,0.188,0.18,0.18,0.18,0.188,0.20,0.215,0.215,0.224,0.227,0.232,0.245,0.26,0.24,0.22,0.232,0.26,0.276,0.31,0.347,0.343,0.356,0.32,0.28];

type PanelCfg = {
  label: string;
  labelTop: number;
  canvasTop: number;
  plotTop: number;
  plotBottom: number;
  plotLeft: number;
  plotRight: number;
  canvasBottom: number;
  xMin: number;
  xMax: number;
  yMin: number;
  yMax: number;
  xTicks: number[];
  xTitle: string;
  points: [number, number][];
  lineX: number[];
  lineY: number[];
};

const panels: PanelCfg[] = [
  { label: '(a) Northern counties', labelTop: 6, canvasTop: 3, plotTop: 5, plotBottom: 293, plotLeft: 248, plotRight: 701, canvasBottom: 330,
    xMin: -2.116, xMax: 4.449, yMin: -0.545, yMax: 1.079, xTicks: xTicksA, xTitle: X_TITLE_CHANGE, points: pointsA, lineX: lineAX, lineY: lineAY },
  { label: '(b) Southern counties', labelTop: 350, canvasTop: 353, plotTop: 355, plotBottom: 645, plotLeft: 248, plotRight: 715, canvasBottom: 691,
    xMin: -2.28, xMax: 6.17, yMin: -0.544, yMax: 1.005, xTicks: xTicksB, xTitle: X_TITLE_CHANGE, points: pointsB, lineX: lineBX, lineY: lineBY },
  { label: '(c) Northern counties', labelTop: 699, canvasTop: 696, plotTop: 698, plotBottom: 1002, plotLeft: 250, plotRight: 717, canvasBottom: 1040,
    xMin: 5.885, xMax: 12.375, yMin: -0.545, yMax: 1.082, xTicks: xTicksC, xTitle: X_TITLE_LEVEL, points: pointsC, lineX: lineCX, lineY: lineCY },
  { label: '(d) Southern counties', labelTop: 1059, canvasTop: 1056, plotTop: 1058, plotBottom: 1359, plotLeft: 248, plotRight: 717, canvasBottom: 1396,
    xMin: 5.905, xMax: 11.19, yMin: -0.548, yMax: 1.042, xTicks: xTicksD, xTitle: X_TITLE_LEVEL, points: pointsD, lineX: lineDX, lineY: lineDY },
];

const TEXT_COLOR = '#1c1c1c';
const axisFont = { family: FONT, size: 13.5 };

function Panel({ cfg }: { cfg: PanelCfg }) {
  const ref = useRef<HTMLCanvasElement | null>(null);
  const width = cfg.plotRight - CANVAS_LEFT;
  const height = cfg.canvasBottom - cfg.canvasTop;

  useEffect(() => {
    const canvas = ref.current;
    if (!canvas) return;
    const chart = new Chart(canvas, {
      type: 'scatter',
      data: {
        datasets: [
          {
            label: 'lowess',
            data: cfg.lineX.map((x, i) => ({ x, y: cfg.lineY[i] })),
            showLine: true,
            borderColor: '#5a5a5a',
            borderWidth: 1.3,
            pointRadius: 0,
            tension: 0,
            fill: false,
            order: 0,
          } as any,
          {
            label: 'zero',
            data: [{ x: cfg.xMin, y: 0 }, { x: cfg.xMax, y: 0 }],
            showLine: true,
            borderColor: '#707070',
            borderWidth: 1,
            borderDash: [8, 4],
            pointRadius: 0,
            order: 1,
          } as any,
          {
            label: 'counties',
            data: cfg.points.map(([x, y]) => ({ x, y })),
            pointStyle: 'crossRot',
            pointRadius: 2.1,
            borderColor: '#555555',
            backgroundColor: '#555555',
            borderWidth: 1.1,
            order: 2,
          } as any,
        ],
      },
      options: {
        responsive: false,
        animation: false,
        devicePixelRatio: 1,
        layout: { padding: { top: cfg.plotTop - cfg.canvasTop, left: 0, right: 0, bottom: 0 }, autoPadding: false } as any,
        plugins: { legend: { display: false }, tooltip: { enabled: false } },
        scales: {
          x: {
            type: 'linear',
            min: cfg.xMin,
            max: cfg.xMax,
            afterBuildTicks: (s: any) => { s.ticks = cfg.xTicks.map((v) => ({ value: v })); },
            afterFit: (s: any) => {
              s.height = cfg.canvasBottom - cfg.plotBottom;
              s.paddingLeft = 0; s.paddingRight = 0; s.paddingTop = 0; s.paddingBottom = 0;
            },
            ticks: { padding: 1, font: axisFont, color: TEXT_COLOR, autoSkip: false, maxRotation: 0, minRotation: 0, callback: (v: any) => String(v) },
            grid: { drawOnChartArea: false, drawTicks: true, tickLength: 5, tickColor: '#111', tickWidth: 1 },
            border: { display: true, color: '#111', width: 1.2 },
            title: { display: true, text: cfg.xTitle, font: axisFont, color: TEXT_COLOR, padding: { top: 0, bottom: 0 } },
          },
          y: {
            type: 'linear',
            min: cfg.yMin,
            max: cfg.yMax,
            afterBuildTicks: (s: any) => { s.ticks = yTickValues.map((v) => ({ value: v })); },
            afterFit: (s: any) => {
              s.width = cfg.plotLeft - CANVAS_LEFT;
              s.paddingLeft = 0; s.paddingRight = 0; s.paddingTop = 0; s.paddingBottom = 0;
            },
            ticks: {
              padding: 1,
              font: axisFont,
              color: TEXT_COLOR,
              autoSkip: false,
              minRotation: 90,
              maxRotation: 90,
              crossAlign: 'center',
              callback: (v: any) => {
                const i = yTickValues.indexOf(Number(v));
                return i >= 0 ? yTickLabels[i] : '';
              },
            },
            grid: {
              color: (ctx: any) => (ctx.tick && ctx.tick.value === 0 ? 'rgba(0,0,0,0)' : '#d2d2d2'),
              lineWidth: 1.3,
              drawTicks: true,
              tickLength: 5,
              tickColor: '#111',
              tickWidth: 1,
            },
            border: { display: true, color: '#111', width: 1.2 },
            title: { display: true, text: Y_TITLE, font: axisFont, color: TEXT_COLOR, padding: { top: 20, bottom: 0 } },
          },
        },
      } as any,
    });
    return () => chart.destroy();
  }, [cfg]);

  return (
    <canvas
      ref={ref}
      width={width}
      height={height}
      style={{ position: 'absolute', left: CANVAS_LEFT, top: cfg.canvasTop, width, height }}
    />
  );
}

export default function App() {
  return (
    <div style={{ position: 'absolute', left: 0, top: 0, width: 717, height: 1397, background: '#fff', overflow: 'hidden' }}>
      {panels.map((p) => (
        <div
          key={p.label}
          style={{ position: 'absolute', left: 7, top: p.labelTop, fontFamily: FONT, fontSize: 18.5, lineHeight: '22px', color: '#555', whiteSpace: 'nowrap' }}
        >
          {p.label}
        </div>
      ))}
      {panels.map((p) => (
        <Panel key={p.label} cfg={p} />
      ))}
    </div>
  );
}
